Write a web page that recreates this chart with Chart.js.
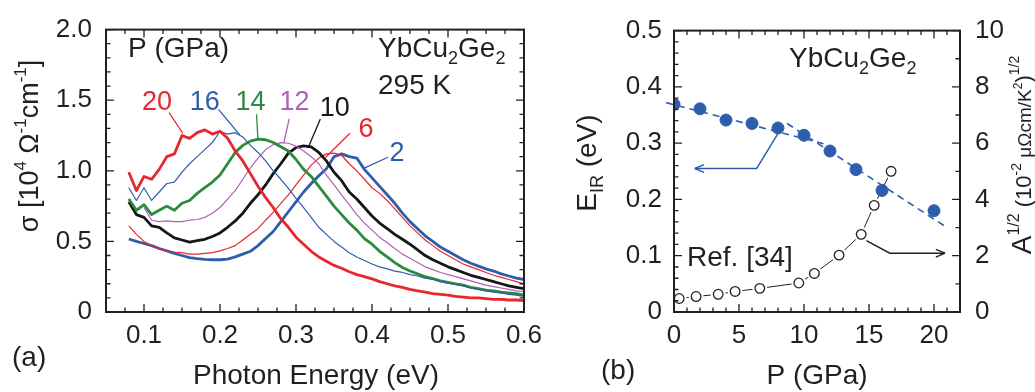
<!DOCTYPE html>
<html>
<head>
<meta charset="utf-8">
<script src="https://cdn.jsdelivr.net/npm/chart.js@4/dist/chart.umd.min.js"></script>
<style>
  html, body { margin: 0; padding: 0; background: #fff; }
  #wrap { position: relative; width: 1035px; height: 392px; }
  #specA { position: absolute; left: 0; top: 0; }
  #specB { position: absolute; left: 560px; top: 0; }
</style>
</head>
<body>
<div id="wrap">
  <canvas id="specA" width="560" height="392"></canvas>
  <canvas id="specB" width="475" height="392"></canvas>
</div>
<script>
const FONT = '"Liberation Sans", Arial, Helvetica, sans-serif';
const INK = '#231f20';
const RED = '#e8262d', BLUE = '#2d5eab', GREEN = '#2b8a3e', PURPLE = '#b060b5', BLACK = '#161616';

// (a) optical conductivity, photon energy in eV, sigma in 10^4 /ohm cm
const energy = [0.08,0.09,0.10,0.11,0.12,0.13,0.14,0.15,0.16,0.17,0.18,0.19,0.20,
  0.21,0.22,0.23,0.24,0.25,0.26,0.27,0.28,0.29,0.30,
  0.31,0.32,0.33,0.34,0.35,0.36,0.37,0.38,0.39,0.40,
  0.41,0.42,0.43,0.44,0.45,0.46,0.47,0.48,0.49,0.50,
  0.51,0.52,0.53,0.54,0.55,0.56,0.57,0.58,0.59,0.60];
const sig20 = [0.99,0.86,0.96,0.94,1.01,1.10,1.12,1.25,1.23,1.27,1.29,1.26,1.28,
  1.23,1.14,1.07,0.98,0.89,0.81,0.74,0.66,0.60,0.53,
  0.48,0.43,0.39,0.36,0.33,0.31,0.285,0.265,0.25,0.235,
  0.215,0.20,0.185,0.175,0.16,0.15,0.14,0.13,0.125,0.12,
  0.11,0.105,0.10,0.10,0.095,0.09,0.09,0.085,0.085,0.08];
const sig16 = [0.88,0.79,0.88,0.79,0.85,0.91,0.92,0.99,1.05,1.10,1.15,1.20,1.28,
  1.26,1.27,1.24,1.18,1.13,1.07,1.00,0.94,0.875,0.805,
  0.74,0.67,0.60,0.55,0.50,0.46,0.42,0.39,0.365,0.34,
  0.32,0.305,0.29,0.28,0.265,0.255,0.24,0.23,0.215,0.205,
  0.195,0.185,0.17,0.16,0.15,0.14,0.135,0.125,0.12,0.11];
const sig14 = [0.80,0.72,0.76,0.69,0.72,0.75,0.72,0.77,0.79,0.84,0.88,0.92,0.97,
  1.05,1.13,1.18,1.21,1.225,1.22,1.20,1.17,1.14,1.08,
  1.01,0.96,0.89,0.82,0.75,0.69,0.63,0.58,0.52,0.48,
  0.43,0.39,0.35,0.315,0.29,0.27,0.25,0.237,0.22,0.21,
  0.20,0.19,0.175,0.165,0.155,0.15,0.14,0.135,0.13,0.12];
const sig12 = [null,null,0.74,0.65,0.64,0.645,0.64,0.64,0.65,0.655,0.67,0.70,0.74,
  0.80,0.86,0.94,1.02,1.09,1.15,1.185,1.20,1.195,1.175,
  1.14,1.10,1.05,0.97,0.90,0.83,0.76,0.69,0.63,0.58,
  0.53,0.49,0.45,0.41,0.38,0.35,0.32,0.30,0.28,0.265,
  0.25,0.235,0.22,0.205,0.19,0.18,0.17,0.16,0.15,0.145];
const sig10 = [0.78,0.69,0.67,0.61,0.60,0.56,0.525,0.51,0.495,0.505,0.515,0.535,0.56,
  0.60,0.645,0.70,0.77,0.83,0.90,0.98,1.05,1.125,1.165,
  1.177,1.17,1.13,1.07,0.99,0.93,0.85,0.80,0.74,0.68,
  0.63,0.59,0.55,0.515,0.48,0.44,0.40,0.37,0.345,0.32,
  0.30,0.28,0.26,0.245,0.23,0.215,0.20,0.185,0.175,0.165];
const sig6 = [0.61,0.55,0.50,0.47,0.445,0.433,0.425,0.42,0.41,0.41,0.415,0.42,0.433,
  0.45,0.47,0.51,0.55,0.59,0.65,0.705,0.77,0.83,0.90,
  0.97,1.04,1.09,1.12,1.125,1.11,1.05,1.00,0.94,0.88,
  0.84,0.79,0.73,0.67,0.61,0.56,0.51,0.47,0.43,0.40,
  0.37,0.34,0.32,0.30,0.28,0.26,0.245,0.23,0.215,0.20];
const sig2 = [0.517,0.50,0.485,0.47,0.45,0.433,0.415,0.40,0.385,0.378,0.373,0.37,0.37,
  0.375,0.39,0.41,0.43,0.47,0.52,0.57,0.64,0.71,0.78,
  0.85,0.91,0.965,1.015,1.10,1.12,1.10,1.09,1.01,0.95,
  0.89,0.83,0.77,0.70,0.64,0.59,0.54,0.50,0.46,0.43,
  0.40,0.37,0.345,0.325,0.305,0.29,0.27,0.255,0.24,0.23];
const xTicksA = [0.1,0.2,0.3,0.4,0.5,0.6];

// (b) E_IR vs pressure, plus A^1/2 from Ref. [34]
const pressure = [0,2,4,6,8,10,12,14,16,20];
const eIR = [0.369,0.361,0.341,0.335,0.327,0.314,0.286,0.253,0.216,0.180];
const fitLowP = [-0.6,11.5], fitLowE = [0.372,0.299];
const fitHighP = [8.7,20.8], fitHighE = [0.335,0.153];
const pressureRef = [0.4,1.7,3.4,4.7,6.6,9.6,10.8,12.7,14.4,15.4,16.7];
const aHalf = [0.48,0.55,0.63,0.73,0.84,1.03,1.37,2.02,2.76,3.79,5.0];
const xTicksB = [0,5,10,15,20];

const pts = (xs, ys) => xs.map((x, i) => ({x: x, y: ys[i]})).filter(p => p.y !== null);

function drawRich(ctx, parts, x, y, align, color, rot, yOff) {
  ctx.save();
  ctx.translate(x, y);
  if (rot) ctx.rotate(rot);
  ctx.fillStyle = color || INK;
  ctx.textAlign = 'left';
  ctx.textBaseline = 'alphabetic';
  let w = 0;
  for (const p of parts) { ctx.font = p[1] + 'px ' + FONT; w += ctx.measureText(p[0]).width; }
  let cx = align === 'center' ? -w / 2 : 0;
  for (const p of parts) {
    ctx.font = p[1] + 'px ' + FONT;
    ctx.fillText(p[0], cx, (p[2] || 0) + (yOff || 0));
    cx += ctx.measureText(p[0]).width;
  }
  ctx.restore();
}

function arrow(ctx, path, color) {
  ctx.save();
  ctx.strokeStyle = color;
  ctx.lineWidth = 1.4;
  ctx.beginPath();
  path.forEach((p, i) => i ? ctx.lineTo(p[0], p[1]) : ctx.moveTo(p[0], p[1]));
  ctx.stroke();
  const a = path[path.length - 2], b = path[path.length - 1];
  const ang = Math.atan2(b[1] - a[1], b[0] - a[0]);
  ctx.beginPath();
  for (const s of [-1, 1]) {
    ctx.moveTo(b[0], b[1]);
    ctx.lineTo(b[0] - 10 * Math.cos(ang + s * 0.4), b[1] - 10 * Math.sin(ang + s * 0.4));
  }
  ctx.stroke();
  ctx.restore();
}

// box frame with inward ticks on the chosen sides
function makeFrame(id, spec) {
  return {
    id: id,
    afterDatasetsDraw(chart) {
      const {ctx, chartArea: a} = chart;
      ctx.save();
      ctx.strokeStyle = INK;
      ctx.lineWidth = 1.3;
      ctx.beginPath();
      for (const t of spec) {
        const sc = chart.scales[t.scale];
        const n = Math.round((sc.max - sc.min) / t.minor);
        for (let k = 0; k <= n; k++) {
          const v = sc.min + k * t.minor;
          const major = Math.abs(v / t.major - Math.round(v / t.major)) < 1e-6;
          const len = major ? 8 : 4.5;
          const p = sc.getPixelForValue(v);
          for (const side of t.sides) {
            if (side === 'bottom') { ctx.moveTo(p, a.bottom); ctx.lineTo(p, a.bottom - len); }
            if (side === 'top') { ctx.moveTo(p, a.top); ctx.lineTo(p, a.top + len); }
            if (side === 'left') { ctx.moveTo(a.left, p); ctx.lineTo(a.left + len, p); }
            if (side === 'right') { ctx.moveTo(a.right, p); ctx.lineTo(a.right - len, p); }
          }
        }
      }
      ctx.stroke();
      ctx.lineWidth = 2;
      ctx.strokeRect(a.left, a.top, a.right - a.left, a.bottom - a.top);
      ctx.restore();
    }
  };
}

const tickFont = {family: FONT, size: 26};

// ---------- panel (a)
const curveLabels = [
  ['20', RED, 0.117, 1.50, [0.133, 1.412], [0.151, 1.266]],
  ['16', BLUE, 0.180, 1.50, [0.198, 1.435], [0.226, 1.254]],
  ['14', GREEN, 0.240, 1.50, [0.248, 1.40], [0.250, 1.22]],
  ['12', PURPLE, 0.298, 1.50, [0.291, 1.367], [0.284, 1.198]],
  ['10', BLACK, 0.351, 1.458, [0.332, 1.367], [0.316, 1.164]],
  ['6', RED, 0.392, 1.31, [0.371, 1.266], [0.339, 1.096]],
  ['2', BLUE, 0.433, 1.14, [0.421, 1.096], [0.389, 1.017]]
];

const notesA = {
  id: 'notesA',
  afterDraw(chart) {
    const {ctx} = chart;
    const sx = chart.scales.x, sy = chart.scales.y;
    for (const c of curveLabels) {
      ctx.save();
      ctx.strokeStyle = c[1];
      ctx.lineWidth = 1.3;
      ctx.beginPath();
      ctx.moveTo(sx.getPixelForValue(c[4][0]), sy.getPixelForValue(c[4][1]));
      ctx.lineTo(sx.getPixelForValue(c[5][0]), sy.getPixelForValue(c[5][1]));
      ctx.stroke();
      ctx.restore();
      drawRich(ctx, [[c[0], 27]], sx.getPixelForValue(c[2]), sy.getPixelForValue(c[3]) + 10, 'center', c[1]);
    }
    drawRich(ctx, [['P (GPa)', 28]], 128, 57);
    drawRich(ctx, [['YbCu', 28], ['2', 18, 7], ['Ge', 28], ['2', 18, 7]], 378, 57);
    drawRich(ctx, [['295 K', 28]], 378, 94);
    drawRich(ctx, [['(a)', 28]], 12, 366);
    drawRich(ctx, [['Photon Energy (eV)', 28]], 316, 384, 'center');
    drawRich(ctx, [['σ [10', 27], ['4', 17, -12], [' Ω', 27], ['-1', 17, -12], ['cm', 27], ['-1', 17, -12], [']', 27]],
      28, 146, 'center', INK, -Math.PI / 2, 10);
  }
};

function spectrum(vals, color, width) {
  return {data: pts(energy, vals), borderColor: color, borderWidth: width, pointRadius: 0, fill: false};
}

new Chart(document.getElementById('specA'), {
  type: 'line',
  data: {
    datasets: [
      spectrum(sig20, RED, 2.8),
      spectrum(sig16, BLUE, 1.2),
      spectrum(sig14, GREEN, 2.8),
      spectrum(sig12, PURPLE, 1.2),
      spectrum(sig10, BLACK, 2.8),
      spectrum(sig6, RED, 1.2),
      spectrum(sig2, BLUE, 2.8)
    ]
  },
  options: {
    responsive: false, animation: false, devicePixelRatio: 1,
    layout: {padding: {top: 18, right: 36, left: 0, bottom: 0}},
    plugins: {legend: {display: false}, tooltip: {enabled: false}},
    elements: {line: {tension: 0, borderJoinStyle: 'round'}},
    scales: {
      x: {
        type: 'linear', min: 0.05, max: 0.6,
        grid: {display: false, drawTicks: false}, border: {display: false},
        afterBuildTicks: s => { s.ticks = xTicksA.map(v => ({value: v})); },
        ticks: {font: tickFont, color: INK, padding: 8, maxRotation: 0, callback: v => v.toFixed(1)},
        afterFit: s => { s.height = 80; }
      },
      y: {
        type: 'linear', min: 0, max: 2,
        grid: {display: false, drawTicks: false}, border: {display: false},
        ticks: {stepSize: 0.5, font: tickFont, color: INK, padding: 14,
          callback: v => v === 0 ? '0' : v.toFixed(1)},
        afterFit: s => { s.width = 106; }
      }
    }
  },
  plugins: [makeFrame('frameA', [
    {scale: 'x', minor: 0.025, major: 0.1, sides: ['top', 'bottom']},
    {scale: 'y', minor: 0.1, major: 0.5, sides: ['left', 'right']}
  ]), notesA]
});

// ---------- panel (b)
const notesB = {
  id: 'notesB',
  afterDraw(chart) {
    const {ctx} = chart;
    const sx = chart.scales.x, sE = chart.scales.yE, sA = chart.scales.yA;
    arrow(ctx, [[8.1, 0.321], [6.36, 0.255], [1.6, 0.255]].map(p => [sx.getPixelForValue(p[0]), sE.getPixelForValue(p[1])]), BLUE);
    arrow(ctx, [[14.8, 2.54], [16.6, 2.09], [20.85, 2.09]].map(p => [sx.getPixelForValue(p[0]), sA.getPixelForValue(p[1])]), INK);
    drawRich(ctx, [['YbCu', 28], ['2', 18, 7], ['Ge', 28], ['2', 18, 7]], 229, 67);
    drawRich(ctx, [['Ref. [34]', 28]], 127, 266);
    drawRich(ctx, [['(b)', 28]], 41, 379);
    drawRich(ctx, [['P (GPa)', 28]], 257, 384, 'center');
    drawRich(ctx, [['E', 28], ['IR', 18, 7], [' (eV)', 28]], 26, 163, 'center', INK, -Math.PI / 2, 10);
    drawRich(ctx, [['A', 28], ['1/2', 16, -12], [' (10', 22], ['-2', 14, -10], [' μΩcm/K', 19], ['2', 12, -9], [')', 22], ['1/2', 14, -12]],
      461, 155, 'center', INK, -Math.PI / 2, 10);
  }
};

new Chart(document.getElementById('specB'), {
  type: 'scatter',
  data: {
    datasets: [
      {data: pts(pressure, eIR), yAxisID: 'yE', pointRadius: 6, pointBackgroundColor: BLUE, pointBorderColor: BLUE, order: 0},
      {data: pts(pressureRef, aHalf), yAxisID: 'yA', pointRadius: 4.8, pointBackgroundColor: '#fff', pointBorderColor: INK, pointBorderWidth: 1.3, order: 0},
      {data: pts(pressureRef, aHalf), yAxisID: 'yA', pointRadius: 7.5, pointBackgroundColor: '#fff', pointBorderWidth: 0, order: 1},
      {data: pts(pressureRef, aHalf), yAxisID: 'yA', showLine: true, borderColor: INK, borderWidth: 1, pointRadius: 0, order: 2},
      {data: pts(fitLowP, fitLowE), yAxisID: 'yE', showLine: true, borderColor: BLUE, borderWidth: 1.6, borderDash: [7, 5], pointRadius: 0, clip: 10, order: 3},
      {data: pts(fitHighP, fitHighE), yAxisID: 'yE', showLine: true, borderColor: BLUE, borderWidth: 1.6, borderDash: [7, 5], pointRadius: 0, order: 3}
    ]
  },
  options: {
    responsive: false, animation: false, devicePixelRatio: 1,
    layout: {padding: {top: 18, right: 0, left: 0, bottom: 0}},
    plugins: {legend: {display: false}, tooltip: {enabled: false}},
    scales: {
      x: {
        type: 'linear', min: 0, max: 22,
        grid: {display: false, drawTicks: false}, border: {display: false},
        afterBuildTicks: s => { s.ticks = xTicksB.map(v => ({value: v})); },
        ticks: {font: tickFont, color: INK, padding: 8, maxRotation: 0},
        afterFit: s => { s.height = 80; }
      },
      yE: {
        type: 'linear', position: 'left', min: 0, max: 0.5,
        grid: {display: false, drawTicks: false}, border: {display: false},
        ticks: {stepSize: 0.1, font: tickFont, color: INK, padding: 12,
          callback: v => v === 0 ? '0' : v.toFixed(1)},
        afterFit: s => { s.width = 114; }
      },
      yA: {
        type: 'linear', position: 'right', min: 0, max: 10,
        grid: {display: false, drawTicks: false}, border: {display: false},
        ticks: {stepSize: 2, font: tickFont, color: INK, padding: 15},
        afterFit: s => { s.width = 75; }
      }
    }
  },
  plugins: [makeFrame('frameB', [
    {scale: 'x', minor: 1, major: 5, sides: ['top', 'bottom']},
    {scale: 'yE', minor: 0.02, major: 0.1, sides: ['left']},
    {scale: 'yA', minor: 1, major: 2, sides: ['right']}
  ]), notesB]
});
</script>
</body>
</html>
